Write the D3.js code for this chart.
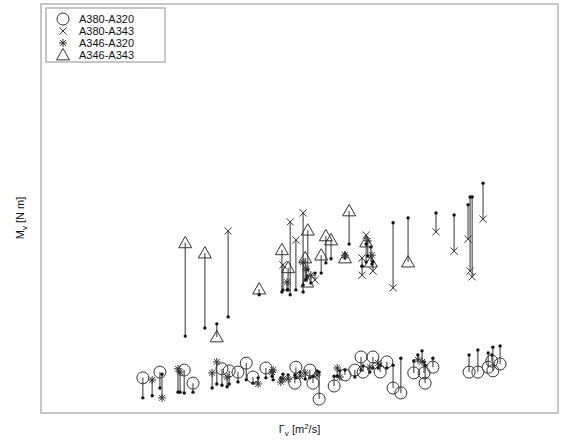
<!DOCTYPE html>
<html>
<head>
<meta charset="utf-8">
<script src="https://cdn.jsdelivr.net/npm/d3@7"></script>
<style>
  body { margin: 0; background: #fff; }
  text { font-family: "Liberation Sans", Arial, sans-serif; }
</style>
</head>
<body>
<div id="chart"></div>
<script>
// each row: [gamma, M at marker, M at dot end]
const a380a320 = [
  [19.7, 8.6, 3.7], [23.0, 10.0, 6.1], [27.7, 10.5, 4.9], [29.4, 7.3, 5.1],
  [35.0, 10.8, 6.8], [36.4, 10.3, 7.1], [38.1, 10.0, 7.6], [39.7, 12.2, 8.1],
  [41.0, 8.8, 7.3], [43.5, 11.0, 8.6], [49.1, 7.3, 9.3], [49.3, 11.2, 8.6],
  [52.0, 10.5, 8.6], [52.6, 7.3, 9.0], [53.8, 3.4, 10.0], [56.7, 6.6, 9.0],
  [58.8, 9.3, 10.5], [60.7, 10.5, 8.8], [61.9, 13.7, 10.5], [64.2, 13.7, 11.0],
  [62.3, 10.0, 11.5], [65.6, 10.0, 11.7], [66.9, 12.5, 11.0], [68.1, 6.1, 11.7],
  [69.6, 4.9, 13.4], [72.1, 9.8, 12.7], [74.1, 9.8, 12.5], [74.3, 7.3, 11.7],
  [75.8, 11.2, 13.4], [82.8, 10.0, 14.2], [84.5, 10.0, 15.4], [86.5, 11.2, 14.7],
  [87.4, 10.3, 16.1], [88.8, 12.0, 16.4], [87.2, 12.7, 14.2]
];
const a380a343 = [
  [36.2, 44.5, 23.5], [50.7, 48.9, 29.6], [48.2, 46.7, 28.9], [49.3, 42.3, 30.1],
  [53.0, 32.5, 34.2], [62.9, 43.5, 41.3], [62.1, 37.9, 35.9], [62.1, 33.7, 35.9],
  [64.2, 34.7, 37.0], [68.1, 30.6, 46.5], [76.4, 44.3, 48.9], [79.9, 39.6, 48.4],
  [82.6, 42.5, 50.9], [83.0, 34.7, 52.8], [83.4, 33.3, 52.8], [85.5, 47.4, 56.2],
  [46.8, 36.2, 30.1]
];
const a346a320 = [
  [50.7, 36.9, 31.3], [51.3, 35.2, 32.8], [52.2, 33.7, 31.8], [58.8, 38.6, 37.9],
  [63.2, 42.1, 38.4], [64.0, 38.6, 36.4], [47.6, 32.0, 30.1],
  [21.5, 8.1, 4.2], [23.4, 3.7, 9.5], [26.5, 10.8, 5.1], [26.9, 10.0, 5.1],
  [33.1, 9.8, 6.1], [34.0, 12.5, 7.1], [36.0, 8.8, 6.4], [42.0, 7.1, 8.6],
  [44.9, 10.5, 8.1], [44.7, 10.0, 9.0], [46.8, 8.3, 9.5], [47.8, 8.3, 9.3],
  [51.1, 9.8, 8.3], [53.4, 9.3, 10.3], [57.3, 11.0, 9.0], [57.8, 8.8, 10.3],
  [63.6, 11.2, 10.0], [65.2, 12.2, 11.0], [72.9, 13.0, 14.2], [73.7, 12.5, 15.2],
  [46.4, 7.6, 8.6], [50.1, 9.0, 10.0]
];
const a346a343 = [
  [27.9, 41.6, 18.8], [31.7, 39.1, 20.8], [34.0, 18.6, 21.8], [42.2, 30.3, 28.9],
  [59.6, 49.4, 41.3], [51.6, 44.7, 35.0], [46.6, 39.9, 29.6], [47.8, 35.5, 30.1],
  [55.1, 43.3, 36.7], [56.1, 42.3, 37.7], [54.2, 38.6, 34.2], [51.1, 37.9, 32.5],
  [51.5, 32.0, 33.5], [58.8, 37.9, 38.9], [62.9, 41.8, 36.9], [63.8, 36.9, 40.6],
  [71.0, 36.9, 47.7]
];
const seriesNames = ['A380-A320', 'A380-A343', 'A346-A320', 'A346-A343'];
const seriesShapes = ['circle', 'cross', 'star', 'triangle'];

const width = 568, height = 444;
const margin = { top: 4, right: 10, bottom: 31, left: 41 };

const svg = d3.select('#chart').append('svg')
  .attr('width', width)
  .attr('height', height);

const x = d3.scaleLinear().domain([0, 100]).range([margin.left, width - margin.right]);
const y = d3.scaleLinear().domain([0, 100]).range([height - margin.bottom, margin.top]);

// marker drawing
function drawMarker(g, shape, cx, cy) {
  const col = '#333';
  if (shape === 'circle') {
    g.append('circle').attr('cx', cx).attr('cy', cy).attr('r', 6)
      .attr('fill', 'none').attr('stroke', col).attr('stroke-width', 1);
  } else if (shape === 'cross') {
    const s = 3.6;
    g.append('path')
      .attr('d', `M${cx - s},${cy - s}L${cx + s},${cy + s}M${cx - s},${cy + s}L${cx + s},${cy - s}`)
      .attr('stroke', col).attr('stroke-width', 1).attr('fill', 'none');
  } else if (shape === 'star') {
    const s = 4, d = 2.9;
    g.append('path')
      .attr('d', `M${cx - s},${cy}L${cx + s},${cy}M${cx},${cy - s}L${cx},${cy + s}` +
        `M${cx - d},${cy - d}L${cx + d},${cy + d}M${cx - d},${cy + d}L${cx + d},${cy - d}`)
      .attr('stroke', col).attr('stroke-width', 1).attr('fill', 'none');
  } else {
    const h = 6.5;
    g.append('path')
      .attr('d', `M${cx},${cy - h}L${cx + h},${cy + h * 0.75}L${cx - h},${cy + h * 0.75}Z`)
      .attr('stroke', col).attr('stroke-width', 1).attr('fill', 'none');
  }
}

const allSeries = [a380a320, a380a343, a346a320, a346a343];

// connecting lines first
allSeries.forEach(rows => {
  svg.append('g').selectAll('line')
    .data(rows)
    .join('line')
    .attr('x1', d => x(d[0])).attr('x2', d => x(d[0]))
    .attr('y1', d => y(d[1])).attr('y2', d => y(d[2]))
    .attr('stroke', '#555')
    .attr('stroke-width', 1.2);
});

// dots at the far end
allSeries.forEach(rows => {
  svg.append('g').selectAll('circle')
    .data(rows)
    .join('circle')
    .attr('cx', d => x(d[0]))
    .attr('cy', d => y(d[2]))
    .attr('r', 1.7)
    .attr('fill', '#111');
});

// markers
allSeries.forEach((rows, i) => {
  const g = svg.append('g');
  rows.forEach(d => drawMarker(g, seriesShapes[i], x(d[0]), y(d[1])));
});

// frame
svg.append('rect')
  .attr('x', margin.left).attr('y', margin.top)
  .attr('width', width - margin.left - margin.right)
  .attr('height', height - margin.top - margin.bottom)
  .attr('fill', 'none')
  .attr('stroke', '#b5b5b5')
  .attr('stroke-width', 1.5);

// legend
const legend = svg.append('g');
legend.append('rect')
  .attr('x', 46).attr('y', 8).attr('width', 119).attr('height', 54)
  .attr('fill', '#fff').attr('stroke', '#b5b5b5').attr('stroke-width', 1.5);
seriesNames.forEach((name, i) => {
  const ly = 19 + i * 12;
  drawMarker(legend, seriesShapes[i], 63, ly);
  legend.append('text')
    .attr('x', 79).attr('y', ly + 4)
    .attr('font-size', 11)
    .attr('fill', '#111')
    .text(name);
});

// axis labels
const xl = svg.append('text')
  .attr('x', (margin.left + width - margin.right) / 2)
  .attr('y', 433)
  .attr('text-anchor', 'middle')
  .attr('font-size', 11)
  .attr('fill', '#111');
xl.append('tspan').text('\u0393');
xl.append('tspan').attr('font-size', 8).attr('dy', 3).text('v');
xl.append('tspan').attr('dy', -3).text(' [m');
xl.append('tspan').attr('font-size', 8).attr('dy', -4).text('2');
xl.append('tspan').attr('dy', 4).text('/s]');

const yl = svg.append('text')
  .attr('transform', 'translate(24,218) rotate(-90)')
  .attr('text-anchor', 'middle')
  .attr('font-size', 11)
  .attr('fill', '#111');
yl.append('tspan').text('M');
yl.append('tspan').attr('font-size', 8).attr('dy', 3).text('v');
yl.append('tspan').attr('dy', -3).text(' [N m]');
</script>
</body>
</html>
